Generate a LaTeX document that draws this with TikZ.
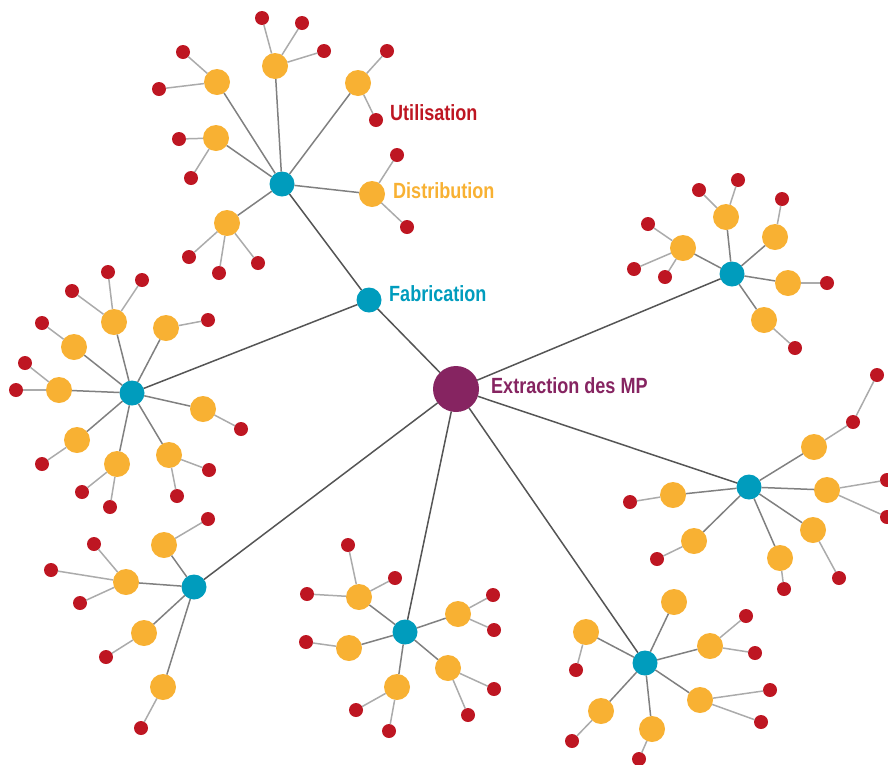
\documentclass[tikz,border=0pt]{standalone}
\usepackage{fontspec}
\usepackage{tikz}
\newfontfamily\narrowsans{Liberation Sans}[FakeStretch=0.82]
\definecolor{mpurple}{HTML}{862461}
\definecolor{mblue}{HTML}{009CBD}
\definecolor{morange}{HTML}{F8B133}
\definecolor{mred}{HTML}{BE1622}
\definecolor{trunkgray}{HTML}{555555}
\definecolor{branchgray}{HTML}{808080}
\definecolor{twiggray}{HTML}{ABABAB}
\tikzset{
  dot/.style={circle,inner sep=0pt,outer sep=0pt},
  hubnode/.style={dot,fill=mpurple,minimum size=46pt},
  phasenode/.style={dot,fill=mblue,minimum size=25pt},
  stagenode/.style={dot,fill=morange,minimum size=26pt},
  leafnode/.style={dot,fill=mred,minimum size=14pt},
  trunk/.style={draw=trunkgray,line width=1.5pt},
  branch/.style={draw=branchgray,line width=1.5pt},
  twig/.style={draw=twiggray,line width=1.5pt},
  lbl/.style={anchor=base west,inner sep=0pt,font=\narrowsans\bfseries\fontsize{22}{26}\selectfont}
}
\begin{document}
\begin{tikzpicture}[x=1pt,y=-1pt]
    \useasboundingbox (0,0) rectangle (888,764);
    % centre and first level
    \node[hubnode] (extr) at (456,389) {};
    \node[phasenode] (fab) at (369,300) {};
    \draw[trunk] (extr) -- (fab);
    \foreach \src/\kid/\x/\y in {fab/ctop/282/184, fab/cleft/132/393,
        extr/cbl/194/587, extr/cbm/405/632, extr/cbr/645/663,
        extr/cr/749/487, extr/ctr/732/274}
        {\node[phasenode] (\kid) at (\x,\y) {};
         \draw[trunk] (\src) -- (\kid);}
    % orange stages
    \foreach \src/\kid/\x/\y in {
        ctop/a1/275/66, ctop/a2/217/82, ctop/a3/216/138, ctop/a4/227/223,
        ctop/a5/358/83, ctop/a6/372/194,
        cleft/b1/114/322, cleft/b2/166/328, cleft/b3/74/347, cleft/b4/59/390,
        cleft/b5/77/440, cleft/b6/117/464, cleft/b7/169/455, cleft/b8/203/409,
        cbl/c1/164/545, cbl/c2/126/582, cbl/c3/144/633, cbl/c4/163/687,
        cbm/d1/359/597, cbm/d2/349/648, cbm/d3/397/687, cbm/d4/448/668,
        cbm/d5/458/614,
        cbr/e1/674/602, cbr/e2/586/632, cbr/e3/710/646, cbr/e4/700/700,
        cbr/e5/601/711, cbr/e6/652/729,
        cr/f1/814/447, cr/f2/827/490, cr/f3/673/495, cr/f4/694/541,
        cr/f5/780/558, cr/f6/813/530,
        ctr/g1/726/217, ctr/g2/775/237, ctr/g3/788/283, ctr/g4/764/320,
        ctr/g5/683/248}
        {\node[stagenode] (\kid) at (\x,\y) {};
         \draw[branch] (\src) -- (\kid);}
    % red leaves
    \foreach \src/\kid/\x/\y in {
        a1/a1x/262/18, a1/a1y/302/23, a1/a1z/324/51,
        a2/a2x/183/52, a2/a2y/159/89,
        a3/a3x/179/139, a3/a3y/191/178,
        a4/a4x/189/257, a4/a4y/219/273, a4/a4z/258/263,
        a5/a5x/387/51, a5/a5y/376/120,
        a6/a6x/397/155, a6/a6y/407/227,
        b1/b1x/108/272, b1/b1y/72/291, b1/b1z/142/280,
        b2/b2x/208/320, b3/b3x/42/323,
        b4/b4x/25/363, b4/b4y/16/390,
        b5/b5x/42/464,
        b6/b6x/82/492, b6/b6y/110/507,
        b7/b7x/209/470, b7/b7y/177/496,
        b8/b8x/241/429,
        c1/c1x/208/519,
        c2/c2x/94/544, c2/c2y/51/570, c2/c2z/80/603,
        c3/c3x/106/657, c4/c4x/141/728,
        d1/d1x/348/545, d1/d1y/395/578, d1/d1z/307/594,
        d2/d2x/306/642,
        d3/d3x/356/710, d3/d3y/389/731,
        d4/d4x/494/689, d4/d4y/468/715,
        d5/d5x/493/595, d5/d5y/494/630,
        e2/e2x/576/670,
        e3/e3x/746/616, e3/e3y/755/653,
        e4/e4x/770/690, e4/e4y/761/722,
        e5/e5x/572/741, e6/e6x/639/759,
        f1/f1x/853/422, f1x/f1y/877/375,
        f2/f2x/887/480, f2/f2y/887/517,
        f3/f3x/630/502, f4/f4x/657/559,
        f5/f5x/784/589, f6/f6x/839/578,
        g1/g1x/699/190, g1/g1y/738/180,
        g2/g2x/782/199, g3/g3x/827/283, g4/g4x/795/348,
        g5/g5x/648/224, g5/g5y/634/269, g5/g5z/665/277}
        {\node[leafnode] (\kid) at (\x,\y) {};
         \draw[twig] (\src) -- (\kid);}
    % legend labels
    \node[lbl,text=mred] (utl) at (390,120.5) {Utilisation};
    \node[lbl,text=morange] (dst) at (393,198) {Distribution};
    \node[lbl,text=mblue] (fbl) at (389,301.5) {Fabrication};
    \node[lbl,text=mpurple] (ext) at (491,393) {Extraction des MP};
\end{tikzpicture}
\end{document}
